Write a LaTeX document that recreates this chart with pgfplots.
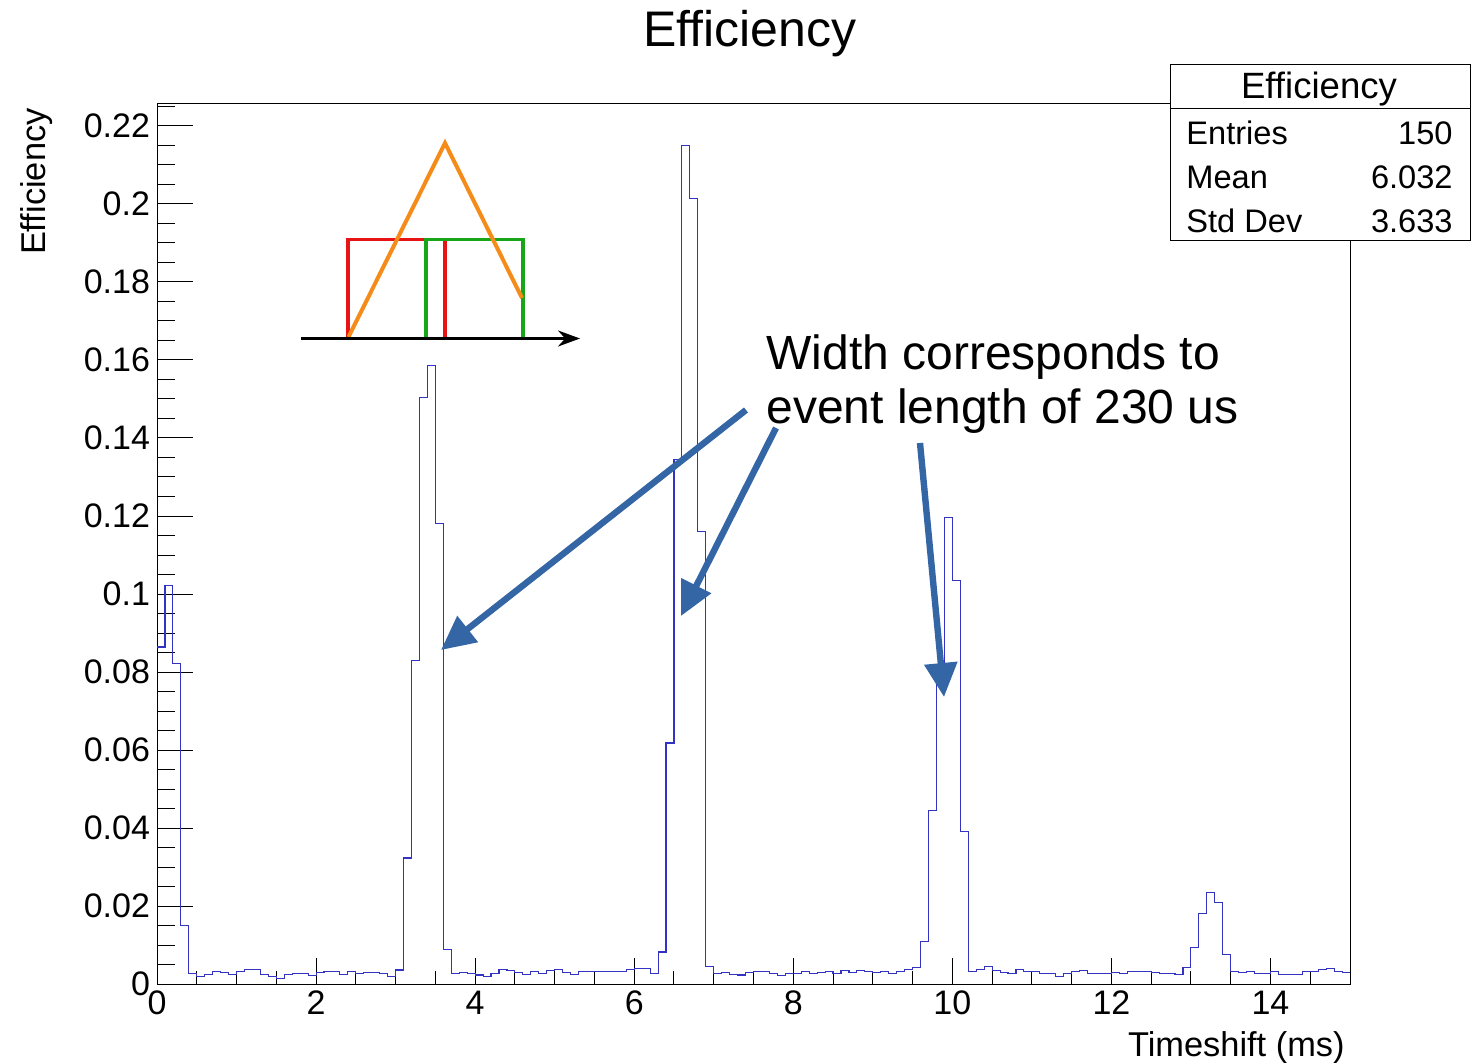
\documentclass[border=0pt]{standalone}
\usepackage{fontspec}
\setmainfont{Liberation Sans}
\usepackage{pgfplots}
\usepackage{pgfplotstable}
\pgfplotsset{compat=1.18}
\usetikzlibrary{arrows.meta}
\definecolor{histblue}{RGB}{50,50,195}
\definecolor{arrblue}{RGB}{52,101,164}
\definecolor{iorange}{RGB}{245,140,25}
\definecolor{ired}{RGB}{230,20,20}
\definecolor{igreen}{RGB}{25,165,25}

\pgfplotstableread{
x y
0.0 0.0864
0.1 0.1021
0.2 0.0822
0.3 0.0150
0.4 0.0027
0.5 0.0020
0.6 0.0025
0.7 0.0032
0.8 0.0030
0.9 0.0024
1.0 0.0032
1.1 0.0038
1.2 0.0038
1.3 0.0024
1.4 0.0020
1.5 0.0014
1.6 0.0024
1.7 0.0027
1.8 0.0027
1.9 0.0021
2.0 0.0030
2.1 0.0032
2.2 0.0032
2.3 0.0024
2.4 0.0033
2.5 0.0027
2.6 0.0029
2.7 0.0029
2.8 0.0027
2.9 0.0020
3.0 0.0036
3.1 0.0323
3.2 0.0830
3.3 0.1504
3.4 0.1587
3.5 0.1180
3.6 0.0089
3.7 0.0027
3.8 0.0030
3.9 0.0027
4.0 0.0023
4.1 0.0020
4.2 0.0027
4.3 0.0038
4.4 0.0034
4.5 0.0030
4.6 0.0024
4.7 0.0032
4.8 0.0027
4.9 0.0034
5.0 0.0038
5.1 0.0030
5.2 0.0025
5.3 0.0033
5.4 0.0033
5.5 0.0033
5.6 0.0032
5.7 0.0032
5.8 0.0032
5.9 0.0038
6.0 0.0040
6.1 0.0040
6.2 0.0027
6.3 0.0082
6.4 0.0618
6.5 0.1346
6.6 0.2149
6.7 0.2015
6.8 0.1160
6.9 0.0044
7.0 0.0027
7.1 0.0029
7.2 0.0025
7.3 0.0023
7.4 0.0030
7.5 0.0033
7.6 0.0033
7.7 0.0027
7.8 0.0021
7.9 0.0027
8.0 0.0027
8.1 0.0033
8.2 0.0027
8.3 0.0030
8.4 0.0033
8.5 0.0027
8.6 0.0034
8.7 0.0030
8.8 0.0035
8.9 0.0032
9.0 0.0030
9.1 0.0033
9.2 0.0027
9.3 0.0032
9.4 0.0038
9.5 0.0043
9.6 0.0110
9.7 0.0445
9.8 0.0810
9.9 0.1197
10.0 0.1035
10.1 0.0390
10.2 0.0032
10.3 0.0038
10.4 0.0046
10.5 0.0034
10.6 0.0030
10.7 0.0026
10.8 0.0038
10.9 0.0032
11.0 0.0032
11.1 0.0027
11.2 0.0027
11.3 0.0020
11.4 0.0027
11.5 0.0033
11.6 0.0035
11.7 0.0027
11.8 0.0027
11.9 0.0027
12.0 0.0029
12.1 0.0027
12.2 0.0032
12.3 0.0032
12.4 0.0032
12.5 0.0030
12.6 0.0027
12.7 0.0026
12.8 0.0024
12.9 0.0043
13.0 0.0094
13.1 0.0180
13.2 0.0235
13.3 0.0209
13.4 0.0076
13.5 0.0032
13.6 0.0030
13.7 0.0032
13.8 0.0026
13.9 0.0026
14.0 0.0032
14.1 0.0024
14.2 0.0025
14.3 0.0024
14.4 0.0032
14.5 0.0032
14.6 0.0037
14.7 0.0040
14.8 0.0032
14.9 0.0030
15.0 0.0030
}\histdata

\begin{document}
\begin{tikzpicture}
\path[use as bounding box] (0pt,0pt) rectangle (735.5pt,531pt);
\begin{axis}[
  at={(78.5pt,39pt)}, anchor=south west,
  scale only axis, width=596.5pt, height=440pt,
  xmin=0, xmax=15, ymin=0, ymax=0.22564,
  xtick={0,2,4,6,8,10,12,14},
  minor xtick={0.5,1,1.5,2.5,3,3.5,4.5,5,5.5,6.5,7,7.5,8.5,9,9.5,10.5,11,11.5,12.5,13,13.5,14.5},
  ytick={0,0.02,0.04,0.06,0.08,0.1,0.12,0.14,0.16,0.18,0.2,0.22},
  minor ytick={0.005,0.01,0.015,0.025,0.03,0.035,0.045,0.05,0.055,0.065,0.07,0.075,0.085,0.09,0.095,0.105,0.11,0.115,0.125,0.13,0.135,0.145,0.15,0.155,0.165,0.17,0.175,0.185,0.19,0.195,0.205,0.21,0.215,0.225},
  scaled y ticks=false,
  yticklabel style={/pgf/number format/fixed,/pgf/number format/precision=2},
  /pgf/number format/assume math mode=true,
  tick label style={font=\fontsize{17}{20}\selectfont, black},
  tick pos=left, tick align=inside,
  xtick style={/pgfplots/major tick length=13pt,/pgfplots/minor tick length=6.5pt, black, line width=0.5pt},
  ytick style={/pgfplots/major tick length=18pt,/pgfplots/minor tick length=9pt, black, line width=0.5pt},
  axis line style={black, line width=0.5pt},
]
\addplot[const plot, histblue, line width=0.55pt] table[x=x,y=y]{\histdata};
\end{axis}
\begin{scope}[x=0.5pt,y=-0.5pt,shift={(0pt,531pt)}]
  % titles
  \node[anchor=base, inner sep=0pt, font=\fontsize{25}{30}\selectfont] at (750,47) {Efficiency};
  \node[rotate=90, anchor=base east, inner sep=0pt, font=\fontsize{17.2}{20}\selectfont] at (46,108) {Efficiency};
  \node[anchor=base east, inner sep=0pt, font=\fontsize{17.2}{20}\selectfont] at (1345,1056) {Timeshift (ms)};
  % stat box
  \draw[fill=white, line width=0.5pt] (1170,65) rectangle (1470,241);
  \draw[line width=0.5pt] (1170,109) -- (1470,109);
  \node[anchor=base, inner sep=0pt, font=\fontsize{18.3}{22}\selectfont] at (1319,99) {Efficiency};
  \begin{scope}[every node/.style={inner sep=0pt, font=\fontsize{16.3}{19}\selectfont}]
    \node[anchor=base west] at (1186,145) {Entries};
    \node[anchor=base east] at (1453,145) {150};
    \node[anchor=base west] at (1186,189) {Mean};
    \node[anchor=base east] at (1453,189) {6.032};
    \node[anchor=base west] at (1186,233) {Std Dev};
    \node[anchor=base east] at (1453,233) {3.633};
  \end{scope}
  % annotation
  \node[anchor=base west, inner sep=0pt, font=\fontsize{24}{28}\selectfont] at (766,370) {Width corresponds to};
  \node[anchor=base west, inner sep=0pt, font=\fontsize{24}{28}\selectfont] at (766,423) {event length of 230 us};
  \begin{scope}[arrblue, line width=3.2pt, -{Triangle[length=17pt,width=16pt]}]
    \draw (746,410) -- (441,650);
    \draw (776,428) -- (681,616);
    \draw (920,443) -- (944,697);
  \end{scope}
  % inset schematic
  \draw[ired, line width=1.8pt] (348,337) -- (348,239.5) -- (445,239.5) -- (445,337);
  \draw[igreen, line width=1.8pt] (426,337) -- (426,239.5) -- (523,239.5) -- (523,337);
  \draw[iorange, line width=2pt] (348.5,337) -- (445,143) -- (522,298);
  \draw[black, line width=1.3pt, -{Stealth[length=11pt,width=8pt]}] (301,338.5) -- (580,338.5);
\end{scope}
\end{tikzpicture}
\end{document}
